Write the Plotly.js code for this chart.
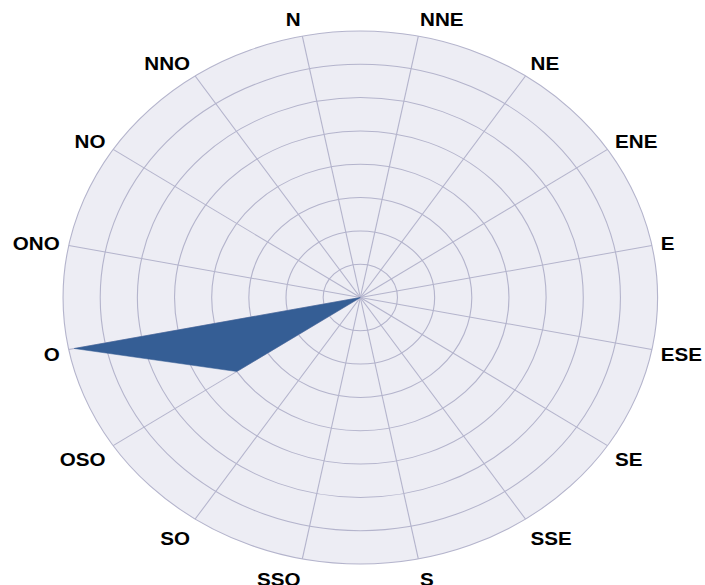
<!DOCTYPE html>
<html>
<head>
<meta charset="utf-8">
<script src="https://cdn.plot.ly/plotly-3.0.1.min.js"></script>
<style>
html,body{margin:0;padding:0;background:#fff;overflow:hidden;}
#plot{width:632px;height:585px;transform:scaleX(1.1155);transform-origin:0 0;}
</style>
</head>
<body>
<div id="plot"></div>
<script>
const directions = ["N","NNE","NE","ENE","E","ESE","SE","SSE","S","SSO","SO","OSO","O","ONO","NO","NNO"];
const frequency = [0,0,0,0,0,0,0,0,0,0,0,4.0,7.85,0,0,0];
const ringValues = [1,2,3,4,5,6,7,8];

const trace = {
  type: "scatterpolar",
  r: frequency,
  theta: directions,
  mode: "lines",
  fill: "toself",
  fillcolor: "#355e95",
  line: {color: "#355e95", width: 0.5},
  hoverinfo: "skip"
};

const layout = {
  width: 632,
  height: 585,
  margin: {l:0, r:0, t:0, b:0},
  paper_bgcolor: "#ffffff",
  showlegend: false,
  polar: {
    domain: {x: [0.0894, 0.9328], y: [0.0359, 0.9470]},
    bgcolor: "#ededf4",
    radialaxis: {
      range: [0, 8],
      tickvals: ringValues,
      showticklabels: false,
      ticks: "",
      showline: false,
      gridcolor: "#b4b4cc",
      gridwidth: 1
    },
    angularaxis: {
      type: "category",
      categoryarray: directions,
      rotation: 101.25,
      direction: "clockwise",
      ticks: "outside",
      ticklen: 4,
      tickcolor: "rgba(0,0,0,0)",
      showline: true,
      linecolor: "#b4b4cc",
      linewidth: 1,
      gridcolor: "#b4b4cc",
      gridwidth: 1,
      tickfont: {family: "Liberation Sans, Arial, sans-serif", size: 18.5, color: "#000000", weight: "bold"}
    }
  }
};

Plotly.newPlot("plot", [trace], layout, {displayModeBar: false, staticPlot: true});
</script>
</body>
</html>
